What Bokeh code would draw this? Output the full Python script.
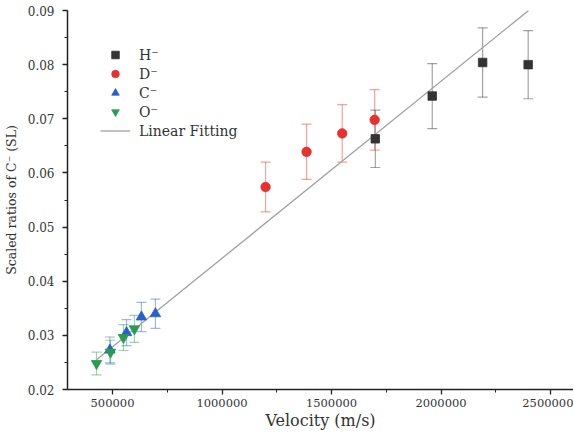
from bokeh.plotting import figure
from bokeh.models import (ColumnDataSource, Whisker, TeeHead, SingleIntervalTicker,
                          BasicTickFormatter, Legend, LegendItem)
from bokeh.embed import file_html
from bokeh.resources import INLINE

# ---- data ----
h_x = [1700000, 1960000, 2190000, 2398000]
h_y = [0.0663, 0.0742, 0.0804, 0.0800]
h_err = [0.0053, 0.0060, 0.0064, 0.0063]

d_x = [1199000, 1386000, 1549000, 1697000]
d_y = [0.0574, 0.0639, 0.0673, 0.0698]
d_err = [0.0046, 0.0051, 0.0053, 0.0056]

c_x = [488000, 564000, 632000, 696000]
c_y = [0.0273, 0.0305, 0.0334, 0.0340]
c_err = [0.0024, 0.0024, 0.0027, 0.0027]

o_x = [427000, 491000, 550000, 600000]
o_y = [0.0248, 0.0269, 0.0296, 0.0312]
o_err = [0.0021, 0.0022, 0.0024, 0.0025]

fit_x = [427000, 2400000]
fit_y = [0.0255, 0.0900]

x_ticks_interval = 500000
y_ticks_interval = 0.01

SERIF = "DejaVu Serif"
FH = 379
p = figure(frame_width=506, frame_height=FH, x_range=(294500, 2605000), y_range=(0.02, 0.09),
           output_backend="svg", toolbar_location=None,
           min_border_left=66, min_border_right=0, min_border_top=10, min_border_bottom=43)
p.outline_line_color = None
p.xgrid.visible = False
p.ygrid.visible = False
p.background_fill_color = "white"

series = [
    ("H\u207b", h_x, h_y, h_err, "#333333", "square", 8.5),
    ("D\u207b", d_x, d_y, d_err, "#e8312f", "circle", 9.5),
    ("C\u207b", c_x, c_y, c_err, "#2a5fc9", "triangle", 10.5),
    ("O\u207b", o_x, o_y, o_err, "#2a9b52", "inverted_triangle", 10.5),
]

items = []
for name, xs, ys, errs, col, mk, sz in series:
    src = ColumnDataSource(dict(x=xs, y=ys,
                                upper=[y + e for y, e in zip(ys, errs)],
                                lower=[y - e for y, e in zip(ys, errs)]))
    w = Whisker(source=src, base="x", upper="upper", lower="lower",
                line_color=col, line_alpha=0.45, line_width=1.2,
                upper_head=TeeHead(size=10, line_color=col, line_alpha=0.45, line_width=1.2),
                lower_head=TeeHead(size=10, line_color=col, line_alpha=0.45, line_width=1.2))
    p.add_layout(w)

fit_r = p.line(fit_x, fit_y, line_color="#a0a0a0", line_width=1.3)

for name, xs, ys, errs, col, mk, sz in series:
    r = p.scatter(xs, ys, marker=mk, size=sz, fill_color=col, line_color=col, line_alpha=0.8)
    items.append(LegendItem(label=name, renderers=[r]))
items.append(LegendItem(label="Linear Fitting", renderers=[fit_r]))

legend = Legend(items=items, location=(33, FH - 25 - 105))
legend.border_line_color = None
legend.background_fill_alpha = 0
legend.padding = 5
legend.margin = 0
legend.spacing = 0
legend.glyph_height = 19
legend.glyph_width = 30
legend.label_standoff = 9
legend.label_text_font = SERIF
legend.label_text_font_size = "14px"
legend.label_text_color = "#333333"
legend.label_height = 19
p.add_layout(legend)

for ax in (p.xaxis[0], p.yaxis[0]):
    ax.axis_line_color = "#222222"
    ax.axis_line_width = 1.5
    ax.major_tick_line_color = "#222222"
    ax.minor_tick_line_color = "#222222"
    ax.major_tick_line_width = 1.3
    ax.major_tick_in = 0
    ax.major_tick_out = 5
    ax.minor_tick_in = 0
    ax.minor_tick_out = 3
    ax.major_label_text_font = SERIF
    ax.major_label_text_color = "#333333"
    ax.axis_label_text_font = SERIF
    ax.axis_label_text_font_style = "normal"
    ax.axis_label_text_color = "#333333"

p.xaxis.major_label_text_font_size = "11.5px"
p.yaxis.major_label_text_font_size = "12px"
p.xaxis.ticker = SingleIntervalTicker(interval=x_ticks_interval, num_minor_ticks=2)
p.yaxis.ticker = SingleIntervalTicker(interval=y_ticks_interval, num_minor_ticks=2)
p.xaxis.formatter = BasicTickFormatter(use_scientific=False)
p.xaxis.axis_label = "Velocity (m/s)"
p.xaxis.axis_label_text_font_size = "16px"
p.xaxis.axis_label_standoff = 1
p.xaxis.major_label_standoff = 4
p.yaxis.axis_label = "Scaled ratios of C\u207b (SL)"
p.yaxis.axis_label_text_font_size = "12.5px"
p.yaxis.axis_label_standoff = 6
p.yaxis.major_label_standoff = 8

open("out.html", "w").write(file_html(p, INLINE))
